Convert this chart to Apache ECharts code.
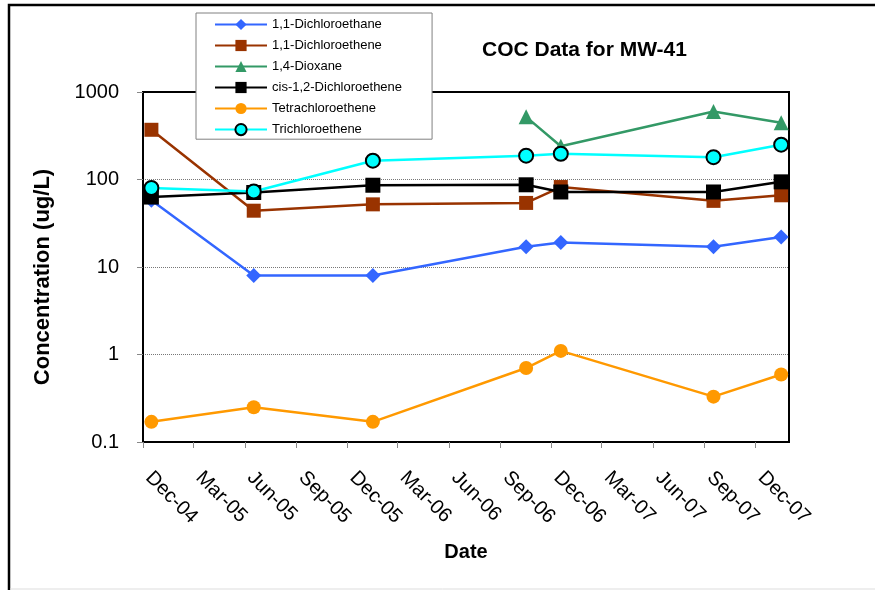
<!DOCTYPE html>
<html>
<head>
<meta charset="utf-8">
<script src="https://cdn.jsdelivr.net/npm/echarts@6/dist/echarts.min.js"></script>
<style>
  html, body { margin: 0; padding: 0; background: #fff; }
  #chart { width: 875px; height: 590px; }
</style>
</head>
<body>
<div id="chart"></div>
<script>
// Sampling dates for monitoring well MW-41
const sampleDates = ['2004-12-16', '2005-06-17', '2006-01-16', '2006-10-17', '2006-12-18', '2007-09-17', '2008-01-16'];

// Concentrations in ug/L (null = not analysed)
const dichloroethane11 = [58, 8, 8, 17, 19, 17, 22];
const dichloroethene11 = [370, 44, 52, 54, 82, 57, 66];
const dioxane14 = [null, null, null, 520, 240, 600, 445];
const cisDichloroethene12 = [63, 71, 86, 87, 72, 72, 94];
const tetrachloroethene = [0.17, 0.25, 0.17, 0.70, 1.1, 0.33, 0.59];
const trichloroethene = [80, 73, 164, 187, 197, 180, 250];

// Quarterly date ticks
const tickDates = ['2004-12-01', '2005-03-01', '2005-06-01', '2005-09-01', '2005-12-01', '2006-03-01',
  '2006-06-01', '2006-09-01', '2006-12-01', '2007-03-01', '2007-06-01', '2007-09-01', '2007-12-01'];
const tickLabels = ['Dec-04', 'Mar-05', 'Jun-05', 'Sep-05', 'Dec-05', 'Mar-06',
  'Jun-06', 'Sep-06', 'Dec-06', 'Mar-07', 'Jun-07', 'Sep-07', 'Dec-07'];
const xRange = ['2004-12-01', '2008-01-30'];

const ts = d => new Date(d + 'T00:00:00Z').getTime();
const tickValues = tickDates.map(ts);
const FONT = 'Liberation Sans, Arial, sans-serif';

function pairs(values) {
  const out = [];
  values.forEach((v, i) => { if (v != null) out.push([ts(sampleDates[i]), v]); });
  return out;
}

function makeSeries(name, values, color, symbol, size, border) {
  return {
    name: name,
    type: 'line',
    data: pairs(values),
    symbol: symbol,
    symbolSize: size,
    showAllSymbol: true,
    lineStyle: { color: color, width: 2.5 },
    itemStyle: border
      ? { color: color, borderColor: '#000', borderWidth: 2 }
      : { color: color, borderWidth: 0 },
    emphasis: { disabled: true },
    animation: false
  };
}

const chart = echarts.init(document.getElementById('chart'), null, { renderer: 'canvas' });

chart.setOption({
  backgroundColor: '#fff',
  animation: false,
  title: {
    text: 'COC Data for MW-41',
    left: 482,
    top: 40,
    padding: 0,
    textStyle: { fontFamily: FONT, fontSize: 21, fontWeight: 'bold', color: '#000' }
  },
  legend: {
    orient: 'vertical',
    left: 196,
    top: 13,
    padding: [5, 30, 3, 18],
    itemWidth: 52,
    itemHeight: 14,
    itemGap: 8,
    backgroundColor: '#fff',
    borderColor: '#808080',
    borderWidth: 1,
    borderRadius: 0,
    z: 10,
    textStyle: { fontFamily: FONT, fontSize: 13, color: '#000' },
    selectedMode: false
  },
  grid: {
    left: 143, top: 92, right: 86, bottom: 148,
    show: true,
    borderColor: '#000',
    borderWidth: 2,
    backgroundColor: 'transparent'
  },
  xAxis: {
    type: 'value',
    min: ts(xRange[0]),
    max: ts(xRange[1]),
    name: 'Date',
    nameLocation: 'middle',
    nameGap: 100,
    nameTextStyle: { fontFamily: FONT, fontSize: 20, fontWeight: 'bold', color: '#000' },
    axisLine: { show: true, lineStyle: { color: '#000', width: 2 } },
    axisTick: { show: true, length: 6, customValues: tickValues, lineStyle: { color: '#888', width: 1 } },
    axisLabel: {
      customValues: tickValues,
      rotate: -45,
      margin: 27,
      padding: [0, 0, 0, 8],
      fontFamily: FONT,
      fontSize: 20,
      color: '#000',
      formatter: v => {
        const i = tickValues.indexOf(v);
        return i >= 0 ? tickLabels[i] : '';
      }
    },
    splitLine: { show: false }
  },
  yAxis: {
    type: 'log',
    logBase: 10,
    min: 0.1,
    max: 1000,
    name: 'Concentration (ug/L)',
    nameLocation: 'middle',
    nameGap: 89,
    nameTextStyle: { fontFamily: FONT, fontSize: 22, fontWeight: 'bold', color: '#000', padding: [0, 20, 0, 0] },
    axisLine: { show: true, lineStyle: { color: '#000', width: 2 } },
    axisTick: { show: true, length: 6, lineStyle: { color: '#888', width: 1 } },
    axisLabel: {
      margin: 24,
      fontFamily: FONT,
      fontSize: 20,
      color: '#000',
      formatter: v => String(Number(v.toPrecision(6)))
    },
    splitLine: {
      show: true,
      showMinLine: false,
      showMaxLine: false,
      lineStyle: { color: '#777', type: 'dotted', width: 1 }
    }
  },
  graphic: [
    {
      type: 'polyline',
      silent: true,
      shape: { points: [[9, 600], [9, 5], [880, 5]] },
      style: { stroke: '#000', lineWidth: 2.5, fill: null }
    },
    {
      type: 'line',
      silent: true,
      shape: { x1: 10, y1: 589, x2: 875, y2: 589 },
      style: { stroke: '#ddd', lineWidth: 1 }
    }
  ],
  series: [
    makeSeries('1,1-Dichloroethane', dichloroethane11, '#3366ff', 'diamond', 15, false),
    makeSeries('1,1-Dichloroethene', dichloroethene11, '#993300', 'rect', 14, false),
    makeSeries('1,4-Dioxane', dioxane14, '#339966', 'triangle', 15, false),
    makeSeries('cis-1,2-Dichloroethene', cisDichloroethene12, '#000000', 'rect', 15, false),
    makeSeries('Tetrachloroethene', tetrachloroethene, '#ff9900', 'circle', 14, false),
    makeSeries('Trichloroethene', trichloroethene, '#00ffff', 'circle', 14, true)
  ]
});
</script>
</body>
</html>
